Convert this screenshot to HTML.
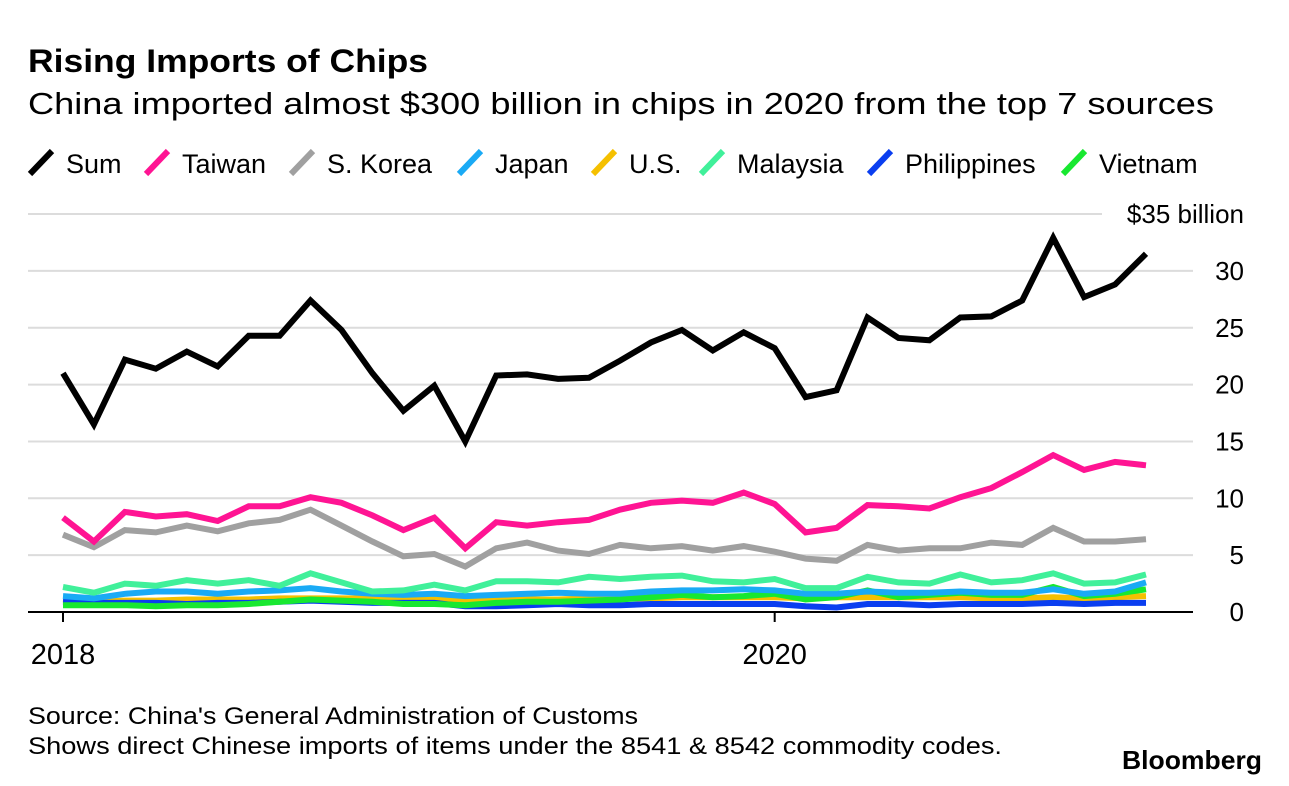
<!DOCTYPE html>
<html><head><meta charset="utf-8"><style>
html,body{margin:0;padding:0;background:#fff;}
svg{display:block;font-family:"Liberation Sans",Arial,sans-serif;}
</style></head><body>
<svg id="chart" width="1289" height="786" viewBox="0 0 1289 786">
<text x="28" y="72" font-size="32" font-weight="bold" fill="#000" textLength="400" lengthAdjust="spacingAndGlyphs">Rising Imports of Chips</text>
<text x="28" y="114" font-size="31" fill="#000" textLength="1186" lengthAdjust="spacingAndGlyphs">China imported almost $300 billion in chips in 2020 from the top 7 sources</text>
<g id="legend"></g>
<g id="grid"></g>
<g id="series"></g>
<g id="xaxis"></g>
<text x="28" y="724" font-size="24" fill="#000" textLength="610" lengthAdjust="spacingAndGlyphs">Source: China's General Administration of Customs</text>
<text x="28" y="754" font-size="24" fill="#000" textLength="974" lengthAdjust="spacingAndGlyphs">Shows direct Chinese imports of items under the 8541 &amp; 8542 commodity codes.</text>
<text x="1262" y="769" font-size="26" font-weight="bold" fill="#000" text-anchor="end" textLength="140" lengthAdjust="spacingAndGlyphs">Bloomberg</text>
</svg>
<script>
const seriesNames = ["Sum","Taiwan","S. Korea","Japan","U.S.","Malaysia","Philippines","Vietnam"];
const seriesColors = ["#000000","#ff1493","#a0a0a0","#1aaaf5","#f5c000","#40f09a","#0a3ef0","#18e830"];
const sumVals = [21.0,16.5,22.2,21.4,22.9,21.6,24.3,24.3,27.4,24.8,21.0,17.7,19.9,15.0,20.8,20.9,20.5,20.6,22.1,23.7,24.8,23.0,24.6,23.2,18.9,19.5,25.9,24.1,23.9,25.9,26.0,27.4,32.9,27.7,28.8,31.5];
const taiwanVals = [8.3,6.2,8.8,8.4,8.6,8.0,9.3,9.3,10.1,9.6,8.5,7.2,8.3,5.6,7.9,7.6,7.9,8.1,9.0,9.6,9.8,9.6,10.5,9.5,7.0,7.4,9.4,9.3,9.1,10.1,10.9,12.3,13.8,12.5,13.2,12.9];
const koreaVals = [6.8,5.7,7.2,7.0,7.6,7.1,7.8,8.1,9.0,7.6,6.2,4.9,5.1,4.0,5.6,6.1,5.4,5.1,5.9,5.6,5.8,5.4,5.8,5.3,4.7,4.5,5.9,5.4,5.6,5.6,6.1,5.9,7.4,6.2,6.2,6.4];
const japanVals = [1.4,1.2,1.6,1.8,1.8,1.6,1.8,1.9,2.1,1.8,1.6,1.5,1.6,1.4,1.5,1.6,1.7,1.6,1.6,1.8,1.9,1.9,2.0,1.9,1.6,1.6,1.8,1.7,1.7,1.8,1.7,1.7,2.0,1.6,1.8,2.6];
const usVals = [1.1,0.9,1.0,1.0,1.1,1.1,1.1,1.2,1.2,1.2,1.2,1.2,1.1,1.0,1.1,1.1,1.1,1.2,1.2,1.2,1.3,1.3,1.3,1.3,1.2,1.3,1.3,1.3,1.3,1.3,1.2,1.2,1.3,1.2,1.3,1.4];
const malaysiaVals = [2.2,1.7,2.5,2.3,2.8,2.5,2.8,2.3,3.4,2.6,1.8,1.9,2.4,1.9,2.7,2.7,2.6,3.1,2.9,3.1,3.2,2.7,2.6,2.9,2.1,2.1,3.1,2.6,2.5,3.3,2.6,2.8,3.4,2.5,2.6,3.3];
const philVals = [0.9,0.8,0.8,0.8,0.7,0.8,0.8,0.9,1.0,0.9,0.8,0.8,0.8,0.5,0.5,0.6,0.7,0.6,0.6,0.7,0.7,0.7,0.7,0.7,0.5,0.4,0.7,0.7,0.6,0.7,0.7,0.7,0.8,0.7,0.8,0.8];
const vietnamVals = [0.6,0.6,0.6,0.5,0.6,0.6,0.7,0.9,1.1,1.0,0.9,0.7,0.7,0.6,0.8,0.9,0.9,1.0,1.1,1.3,1.5,1.3,1.4,1.6,1.1,1.3,1.9,1.3,1.5,1.7,1.5,1.5,2.2,1.4,1.6,2.0];
const yTicks = [0,5,10,15,20,25,30,35];
const yTickLabels = ["0","5","10","15","20","25","30","$35 billion"];
const xTickIdx = [0,23];
const xTickLabels = ["2018","2020"];

const NS="http://www.w3.org/2000/svg";
const x = i => 63 + i*(1146-63)/35;
const y = v => 612 - v*11.37;
function mk(tag, attrs, parent){const e=document.createElementNS(NS,tag);for(const k in attrs)e.setAttribute(k,attrs[k]);parent.appendChild(e);return e;}

const grid=document.getElementById('grid');
yTicks.forEach((t,k)=>{
  if(t>0){
    const ln=mk('line',{x1:28,x2:t===35?1102:1193,y1:y(t),y2:y(t),stroke:'#dcdcdc','stroke-width':2},grid);
    
    
  }
  const tx=mk('text',{x:1244,y:y(t)+9,'font-size':26,'text-anchor':'end',fill:'#000'},grid);
  tx.textContent=yTickLabels[k];
  
  
});

const allVals=[sumVals,taiwanVals,koreaVals,japanVals,usVals,malaysiaVals,philVals,vietnamVals];
const drawOrder=[4,6,7,3,5,2,1,0];
const sg=document.getElementById('series');
drawOrder.forEach(s=>{
  const pts=allVals[s].map((v,i)=>x(i).toFixed(1)+','+y(v).toFixed(1)).join(' ');
  const pl=mk('polyline',{points:pts,fill:'none',stroke:seriesColors[s],'stroke-width':6,'stroke-linejoin':'miter','stroke-linecap':'butt'},sg);
  
  
});

const xa=document.getElementById('xaxis');
const base=mk('line',{x1:28,x2:1193,y1:612,y2:612,stroke:'#000','stroke-width':2},xa);


xTickIdx.forEach((ix,k)=>{
  const tk=mk('line',{x1:x(ix),x2:x(ix),y1:612,y2:622,stroke:'#000','stroke-width':2},xa);
  
  
  const tx=mk('text',{x:x(ix),y:664,'font-size':29,'text-anchor':'middle',fill:'#000'},xa);
  tx.textContent=xTickLabels[k];
  
  
});

const labelX=[66,182,327,495,629,737,905,1099];
const lg=document.getElementById('legend');
seriesNames.forEach((n,s)=>{
  const g=mk('g',{},lg);
  
  
  const lx=labelX[s]-36;
  const ic=mk('line',{x1:lx,y1:174,x2:lx+22,y2:151,stroke:seriesColors[s],'stroke-width':6},g);
  
  
  const t=mk('text',{x:labelX[s],y:173,'font-size':27,fill:'#000'},g);
  t.textContent=n;
  
  
});
</script>
</body></html>
